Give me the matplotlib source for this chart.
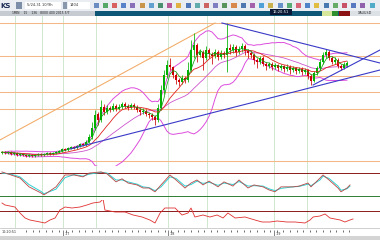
import numpy as np
import pandas as pd
import matplotlib
matplotlib.use('Agg')
import matplotlib.pyplot as plt
from matplotlib.patches import Rectangle

# ---- Velas (precio en unidades arbitrarias, una vela por barra) ----
opens = [17, 18, 17, 18, 16, 17, 15, 16, 15, 14, 15, 14, 15, 16, 15, 16, 17, 16, 17,
         18, 19, 21, 20, 22, 23, 22, 24, 26, 25,
         28, 33, 42, 56, 50,
         63, 58, 62, 60, 64, 61, 63, 66, 64, 62, 65, 63, 60, 58, 59, 56, 55,
         53,
         50, 62, 80, 95, 105,
         103, 95, 90, 88, 92, 90,
         100, 120,
         125, 115, 118, 112, 120, 116, 114, 118, 113, 117,
         115,
         122, 120, 123, 118, 121, 124, 119, 117,
         115, 110, 108, 112, 106,
         104, 106, 103, 105, 102, 104, 101, 103,
         100, 102, 99, 101, 98, 100, 94,
         89, 97, 102, 108, 115, 118, 112, 108, 110, 104, 102, 105]
closes = [18, 17, 18, 16, 17, 15, 16, 15, 14, 15, 14, 15, 16, 15, 16, 17, 16, 17, 18,
          19, 21, 20, 22, 23, 22, 24, 26, 25, 28,
          33, 42, 55, 50, 63,
          58, 62, 60, 64, 61, 63, 66, 64, 62, 65, 63, 60, 58, 59, 56, 55, 53,
          50,
          62, 80, 95, 105, 103,
          95, 90, 88, 92, 90, 100,
          120, 125,
          115, 118, 112, 120, 116, 114, 118, 113, 117, 115,
          122,
          120, 123, 118, 121, 124, 119, 117, 115,
          110, 108, 112, 106, 104,
          106, 103, 105, 102, 104, 101, 103, 100,
          102, 99, 101, 98, 100, 94, 89,
          97, 102, 108, 115, 118, 112, 108, 110, 104, 102, 105, 107]
highs = [19, 19, 19, 19, 18, 18, 17, 17, 16, 16, 16, 16, 17, 17, 17, 18, 18, 18, 19,
         20, 22, 22, 23, 24, 24, 25, 27, 27, 30,
         36, 48, 60, 58, 70,
         66, 65, 64, 67, 66, 66, 68, 68, 66, 67, 67, 65, 62, 62, 61, 58, 57,
         55,
         66, 85, 100, 110, 112,
         104, 97, 92, 95, 94, 108,
         130, 137,
         127, 121, 120, 124, 122, 118, 121, 120, 120, 119,
         147,
         126, 126, 125, 124, 127, 126, 121, 119,
         117, 112, 114, 114, 108,
         108, 108, 107, 106, 106, 105, 106, 105,
         104, 103, 103, 103, 102, 101, 96,
         99, 104, 111, 118, 121, 120, 114, 113, 112, 106, 108, 109]
lows = [16, 16, 16, 15, 15, 14, 14, 14, 13, 13, 13, 13, 14, 14, 14, 15, 15, 15, 16,
        17, 18, 19, 19, 21, 21, 21, 23, 24, 24,
        27, 31, 40, 45, 48,
        55, 56, 58, 59, 59, 60, 61, 62, 60, 61, 61, 58, 55, 56, 54, 52, 50,
        45,
        48, 60, 76, 92, 100,
        92, 86, 84, 86, 87, 88,
        98, 112,
        108, 113, 100, 110, 112, 106, 112, 110, 111, 112,
        98,
        116, 117, 114, 116, 118, 115, 112, 112,
        106, 102, 106, 104, 100,
        102, 100, 101, 99, 100, 98, 99, 96,
        98, 96, 97, 95, 96, 91, 85,
        88, 95, 100, 106, 112, 110, 106, 106, 102, 100, 101, 103]

# niveles horizontales y lineas de tendencia (barra, precio)
niveles = [147, 114, 94, 78, 61, 9]
tend_naranja = [(-0.7, 30), (71, 147)]
tend_azules = [[(22.7, 21), (126, 100)],
               [(103.7, 85), (126, 120)],
               [(73.3, 147), (126, 107)]]
sesiones = [4.3, 13.3, 20.3, 31.3, 55.3, 68.3, 90.7, 101.7]
fechas = ['1/7', '1/8', '1/9']
fechas_pos = [20.3, 55.3, 90.7]

# ---- Oscilador (estocástico) ----
osc_x = [0, 3, 6, 9, 13, 14, 18, 21, 24, 27, 29, 33, 35, 38, 40, 42, 45, 47, 49, 51,
         53, 56, 58, 61, 63, 65, 67, 69, 72, 74, 77, 79, 82, 84, 87, 89, 91, 93, 97, 99,
         102, 103, 106, 107, 109, 112, 113, 115, 116]
osc_k = [83, 75, 67, 44, 28, 23, 44, 75, 75, 70, 80, 83, 78, 57, 65, 54, 49, 41, 41, 31,
         49, 75, 62, 41, 54, 62, 49, 59, 44, 57, 46, 62, 41, 49, 44, 36, 31, 44, 44, 46,
         54, 44, 67, 75, 62, 41, 31, 41, 49]
osc_d = [80, 77, 70, 50, 32, 26, 38, 68, 76, 72, 77, 82, 80, 62, 62, 57, 51, 44, 42, 34,
         44, 70, 66, 46, 50, 59, 53, 56, 48, 54, 50, 58, 46, 47, 46, 39, 34, 40, 44, 45,
         51, 47, 62, 72, 66, 46, 35, 39, 46]

# ---- Momento ----
mom_x = [0, 1, 4.3, 6, 7.7, 9.3, 12.7, 14.3, 16, 17.7, 19.3, 21, 23.3, 26, 28.3, 30.3,
         32.7, 33.7, 34.3, 37.7, 41, 43.7, 46.7, 49.3, 51, 52.7, 54.3, 57.7, 60, 62, 63,
         64.3, 67, 69.3, 71.7, 73.7, 75.3, 77.7, 81, 84.3, 86.7, 89.3, 91.7, 95, 97.7,
         101, 102.7, 103.7, 106, 107.7, 109.3, 112.7, 114.3, 116, 117]
mom_v = [8, 6, 4, -2, -7, -9, -11, -12, -9, -7, 1, 4, 3, 4, 6, 8,
         9, 12, 1, -1, -1, -4, -6, -9, -12, -2, 3, 3, -4, -2, 3,
         -6, -4, -6, -4, -7, -2, -7, -6, -9, -11, -11, -10, -11, -11,
         -12, -9, -6, -5, -3, -7, -9, -11, -9, -8]

# ---- indicadores (bandas de Bollinger y medias) ----
s = pd.Series(closes, dtype=float)
media20 = s.rolling(20, min_periods=2).mean()
desv20 = s.rolling(20, min_periods=2).std(ddof=0)
banda_sup = media20 + 2 * desv20
banda_inf = media20 - 2 * desv20
ma_roja = s.rolling(10, min_periods=1).mean()
ma_verde = s.rolling(4, min_periods=1).mean()

W, H = 380, 240
fig = plt.figure(figsize=(W / 100, H / 100), dpi=100)
fig.patch.set_facecolor('white')


def caja(x, y, w, h):
    # pixeles desde arriba -> fraccion de figura
    return [x / W, 1 - (y + h) / H, w / W, h / H]


def rect(x, y, w, h, color, **kw):
    fig.add_artist(Rectangle((x / W, 1 - (y + h) / H), w / W, h / H,
                             transform=fig.transFigure, color=color, lw=0, **kw))


# barra de herramientas
rect(0, 0, W, 11, '#eaeef2')
fig.text(0.5 / W, 1 - 5.5 / H, 'KS', fontsize=5, weight='bold', color='#1b2b55', va='center')
rect(16, 2.5, 6, 6, '#7d8fa8')
rect(25, 2, 36, 7, 'white')
fig.text(27 / W, 1 - 5.5 / H, '5/24-31 10/9h', fontsize=2.6, color='#333333', va='center')
rect(63, 2.5, 4, 6, '#8a98ae')
rect(68, 2, 22, 7, 'white')
fig.text(70 / W, 1 - 5.5 / H, '1404', fontsize=2.6, color='#333333', va='center')
iconos = ['#6b8cc0', '#55a868', '#d86060', '#5a82c8', '#8a70b8', '#c8954a', '#62a0d0',
          '#4a9070', '#b85a98', '#e0b040', '#5078b8', '#60acac', '#cc6262', '#7e7ec0',
          '#58945c', '#d8884a', '#4f78b0', '#a460aa', '#50a0d8', '#c8b04c', '#6890c8',
          '#5aac74', '#d86478', '#5084c8', '#e0bc40', '#4a78b0', '#66ac66', '#c85068',
          '#5a78c0', '#9060ac', '#50acc8']
for k, c in enumerate(iconos):
    rect(93.5 + k * 9.2, 3, 5, 5, c)

# barra de titulo
rect(0, 11, 95, 5, '#c6cbd1')
fig.text(12 / W, 1 - 13.5 / H, '1MIN    15    136   8000 400 2015 5/7', fontsize=2.2,
         color='#222222', va='center')
rect(95, 11, 285, 5, '#0e5676')
rect(270, 9, 22, 6, '#0a1a36')
fig.text(281 / W, 1 - 12 / H, '16:20:51', fontsize=2.6, color='white', va='center', ha='center')
rect(322, 11, 10, 5, '#d6e79c')
rect(332, 11, 6, 5, '#2f8f2f')
rect(339, 11, 11, 5, '#8b1212')
rect(350, 11, 30, 5, '#dce1e6')
fig.text(365 / W, 1 - 13.5 / H, 'XAUUSD', fontsize=2.4, color='#222222', va='center', ha='center')

xlim = (-2 / 3, 126)
x = np.arange(len(closes))

# panel principal
ax = fig.add_axes(caja(0, 16, W, 150))
ax.set_xlim(*xlim)
ax.set_ylim(4, 154)
for nv in niveles:
    ax.axhline(nv, color='#f4b888', lw=0.75, zorder=1)
(x0, y0), (x1, y1) = tend_naranja
ax.plot([x0, x1], [y0, y1], color='#f2aa66', lw=0.75, zorder=1)

o = np.array(opens, float)
c = np.array(closes, float)
sube = c >= o
col = np.where(sube, '#00b000', '#cc0000')
ax.vlines(x, lows, highs, colors=col, lw=0.55, zorder=3)
alto = np.maximum(np.abs(c - o), 0.6)
ax.bar(x, alto, bottom=np.minimum(o, c), width=0.6, color=col, lw=0, zorder=3)

ax.plot(x, banda_sup, color='#dd4ddd', lw=0.7, zorder=2)
ax.plot(x, banda_inf, color='#dd4ddd', lw=0.7, zorder=2)
ax.plot(x, media20, color='#cc55cc', lw=0.6, zorder=2)
ax.plot(x, ma_roja, color='#e02020', lw=0.6, zorder=4)
ax.plot(x, ma_verde, color='#10a010', lw=0.55, zorder=4)

for (a0, b0), (a1, b1) in tend_azules:
    ax.plot([a0, a1], [b0, b1], color='#3a3ac8', lw=0.8, zorder=5)

# panel estocastico
ax2 = fig.add_axes(caja(0, 166, W, 34))
ax2.set_xlim(*xlim)
ax2.set_ylim(9.7, 98.4)
ax2.axhline(80, color='#8b1a1a', lw=0.7)
ax2.axhline(20, color='#2e7d32', lw=0.7)
ax2.plot(osc_x, osc_d, color='#30d0d0', lw=0.7)
ax2.plot(osc_x, osc_k, color='#b84848', lw=0.6)

# panel momento
ax3 = fig.add_axes(caja(0, 200, W, 28))
ax3.set_xlim(*xlim)
ax3.set_ylim(-17, 11)
ax3.axhline(0, color='#8b1a1a', lw=0.7)
ax3.plot(mom_x, mom_v, color='#e03030', lw=0.6)

for a in (ax, ax2, ax3):
    for xs in sesiones:
        a.axvline(xs, color='#cfe8cf', lw=0.7, zorder=0)
    a.set_xticks([])
    a.set_yticks([])
    for sp in a.spines.values():
        sp.set_visible(False)
    a.patch.set_alpha(0)

# eje de tiempo
ax4 = fig.add_axes(caja(0, 228, W, 8))
ax4.set_xlim(*xlim)
ax4.set_ylim(0, 1)
marcas = np.arange(8, 118, 2.2)
ax4.vlines(marcas, 0.45, 0.8, color='#333333', lw=0.5)
ax4.axhline(0.98, color='#bbbbbb', lw=0.5)
for p, f in zip(fechas_pos, fechas):
    ax4.vlines(p, 0.0, 0.8, color='#555555', lw=0.5)
    ax4.text(p + 0.4, 0.1, f, fontsize=2.4, color='#333333')
ax4.text(0, 0.55, '10:20:51', fontsize=2.4, color='#333333', va='center')
ax4.set_xticks([])
ax4.set_yticks([])
for sp in ax4.spines.values():
    sp.set_visible(False)

rect(0, 236, W, 4, '#d4d4d4')

fig.savefig('out.png', dpi=100)
